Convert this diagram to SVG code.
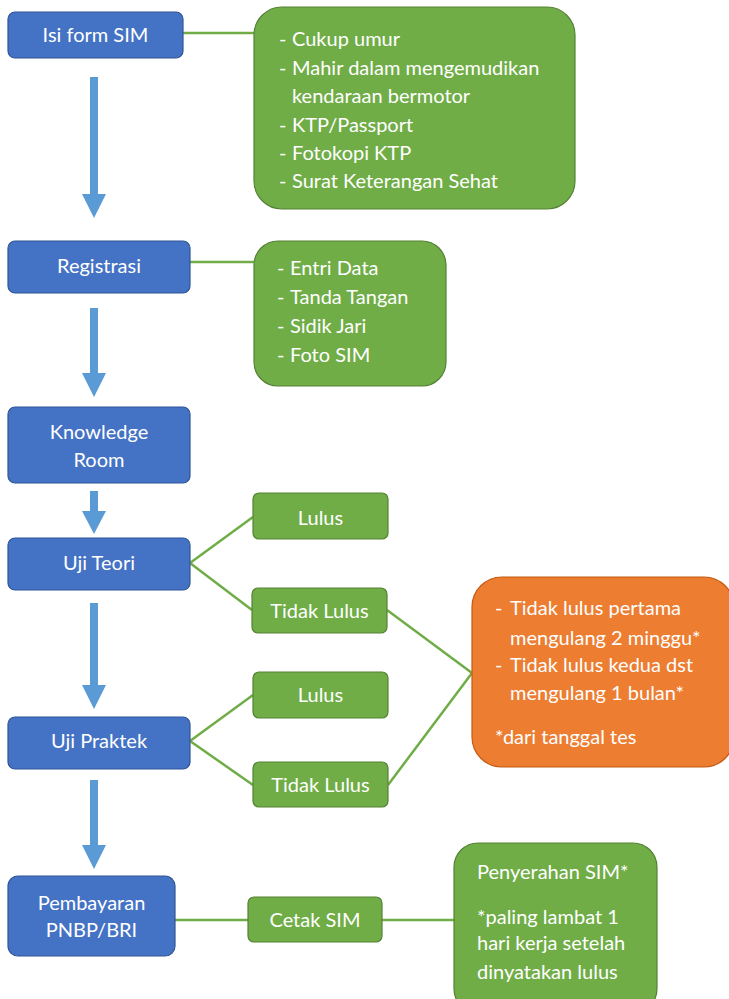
<svg xmlns="http://www.w3.org/2000/svg" width="729" height="999" viewBox="0 0 729 999">
<style>
.blue{fill:#4472C4;stroke:#2F5597;stroke-width:1.2}
.green{fill:#70AD47;stroke:#548235;stroke-width:1.2}
.orange{fill:#ED7D31;stroke:#C55A11;stroke-width:1.2}
.t{font-family:Lato,"Liberation Sans",sans-serif;font-size:20px;fill:#ffffff}
.c{text-anchor:middle}
.ln{stroke:#70AD47;stroke-width:2.5;fill:none}
.ar{fill:#5B9BD5}
</style>
<rect width="729" height="999" fill="#ffffff"/>
<g id="connectors">
<line class="ln" x1="183" y1="33" x2="254" y2="33"/>
<line class="ln" x1="190" y1="262" x2="254" y2="262"/>
<line class="ln" x1="190" y1="563" x2="253" y2="517"/>
<line class="ln" x1="190" y1="563" x2="252" y2="610"/>
<line class="ln" x1="190" y1="741" x2="253" y2="695"/>
<line class="ln" x1="190" y1="741" x2="253" y2="785"/>
<line class="ln" x1="387" y1="610" x2="472" y2="673"/>
<line class="ln" x1="388" y1="785" x2="472" y2="673"/>
<line class="ln" x1="175" y1="920" x2="248" y2="920"/>
<line class="ln" x1="382" y1="920" x2="454" y2="920"/>
<polygon class="ar" points="90,77 98,77 98,194 106,194 94,218 82,194 90,194"/>
<polygon class="ar" points="90,308 98,308 98,373 106,373 94,397 82,373 90,373"/>
<polygon class="ar" points="90,491 98,491 98,511 106,511 94,534 82,511 90,511"/>
<polygon class="ar" points="90,603 98,603 98,685 106,685 94,709 82,685 90,685"/>
<polygon class="ar" points="90,780 98,780 98,845 106,845 94,869 82,845 90,845"/>
</g>
<g id="isi-form">
<rect class="blue" x="8" y="12" width="175" height="46" rx="7"/>
<text class="t c" x="95.5" y="42">Isi form SIM</text>
</g>
<g id="syarat">
<rect class="green" x="254" y="7" width="321" height="202" rx="28"/>
<text class="t" x="279" y="46">-</text><text class="t" x="292" y="46">Cukup umur</text>
<text class="t" x="279" y="75">-</text><text class="t" x="292" y="75">Mahir dalam mengemudikan</text>
<text class="t" x="292" y="103">kendaraan bermotor</text>
<text class="t" x="279" y="132">-</text><text class="t" x="292" y="132">KTP/Passport</text>
<text class="t" x="279" y="160">-</text><text class="t" x="292" y="160">Fotokopi KTP</text>
<text class="t" x="279" y="188">-</text><text class="t" x="292" y="188">Surat Keterangan Sehat</text>
</g>
<g id="registrasi">
<rect class="blue" x="8" y="241" width="182" height="52" rx="7"/>
<text class="t c" x="99" y="273">Registrasi</text>
</g>
<g id="registrasi-detail">
<rect class="green" x="254" y="241" width="192" height="145" rx="24"/>
<text class="t" x="277" y="275">-</text><text class="t" x="290" y="275">Entri Data</text>
<text class="t" x="277" y="304">-</text><text class="t" x="290" y="304">Tanda Tangan</text>
<text class="t" x="277" y="333">-</text><text class="t" x="290" y="333">Sidik Jari</text>
<text class="t" x="277" y="362">-</text><text class="t" x="290" y="362">Foto SIM</text>
</g>
<g id="knowledge-room">
<rect class="blue" x="8" y="407" width="182" height="76" rx="7"/>
<text class="t c" x="99" y="439">Knowledge</text>
<text class="t c" x="99" y="467">Room</text>
</g>
<g id="uji-teori">
<rect class="blue" x="8" y="538" width="182" height="52" rx="7"/>
<text class="t c" x="99" y="570">Uji Teori</text>
</g>
<g id="teori-lulus">
<rect class="green" x="253" y="493" width="135" height="46" rx="6"/>
<text class="t c" x="320.5" y="525">Lulus</text>
</g>
<g id="teori-tidak-lulus">
<rect class="green" x="252" y="588" width="135" height="45" rx="6"/>
<text class="t c" x="319.5" y="618">Tidak Lulus</text>
</g>
<g id="uji-praktek">
<rect class="blue" x="8" y="717" width="182" height="52" rx="7"/>
<text class="t c" x="99" y="748">Uji Praktek</text>
</g>
<g id="praktek-lulus">
<rect class="green" x="253" y="672" width="135" height="46" rx="6"/>
<text class="t c" x="320.5" y="702">Lulus</text>
</g>
<g id="praktek-tidak-lulus">
<rect class="green" x="253" y="762" width="135" height="45" rx="6"/>
<text class="t c" x="320.5" y="792">Tidak Lulus</text>
</g>
<g id="ketentuan-ulang">
<rect class="orange" x="472" y="577" width="262" height="190" rx="30"/>
<text class="t" x="495" y="615">-</text><text class="t" x="510" y="615">Tidak lulus pertama</text>
<text class="t" x="510" y="645">mengulang 2 minggu*</text>
<text class="t" x="495" y="672">-</text><text class="t" x="510" y="672">Tidak lulus kedua dst</text>
<text class="t" x="510" y="700">mengulang 1 bulan*</text>
<text class="t" x="495" y="744">*dari tanggal tes</text>
</g>
<g id="pembayaran">
<rect class="blue" x="8" y="876" width="167" height="80" rx="10"/>
<text class="t c" x="91.5" y="910">Pembayaran</text>
<text class="t c" x="91.5" y="937">PNBP/BRI</text>
</g>
<g id="cetak-sim">
<rect class="green" x="248" y="897" width="134" height="45" rx="6"/>
<text class="t c" x="315" y="927">Cetak SIM</text>
</g>
<g id="penyerahan-sim">
<rect class="green" x="454" y="843" width="203" height="170" rx="24"/>
<text class="t" x="477" y="879">Penyerahan SIM*</text>
<text class="t" x="477" y="924">*paling lambat 1</text>
<text class="t" x="477" y="950">hari kerja setelah</text>
<text class="t" x="477" y="979">dinyatakan lulus</text>
</g>
</svg>
